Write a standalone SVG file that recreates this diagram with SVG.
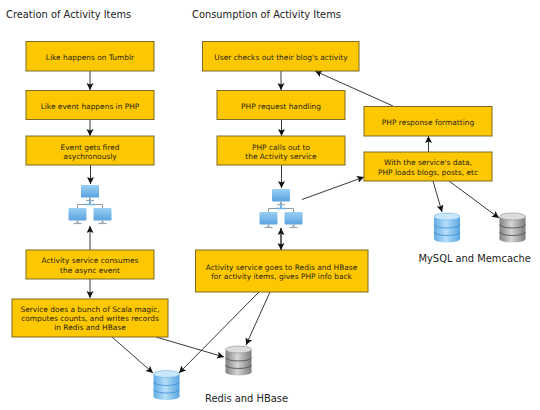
<svg xmlns="http://www.w3.org/2000/svg" width="540" height="410" viewBox="0 0 540 410">
<style>
.b{fill:#fdc800;stroke:#7d6a24;stroke-width:1}
.t{font-family:"DejaVu Sans",sans-serif;font-size:7.45px;fill:#2b2410;text-anchor:middle}
.h{font-family:"DejaVu Sans",sans-serif;font-size:9.9px;fill:#222}
.c{fill:none;stroke:#222;stroke-width:.9}
.ln{fill:none;stroke:#8f9aa3;stroke-width:1}
</style>
<defs>
<marker id="a" markerUnits="userSpaceOnUse" markerWidth="9" markerHeight="9" refX="7" refY="3.5" orient="auto"><path d="M0 0L7 3.5L0 7L1.5 3.5Z" fill="#111"/></marker>
<linearGradient id="sc" x1="0" y1="0" x2="0" y2="1"><stop offset="0" stop-color="#9ad0f5"/><stop offset="1" stop-color="#5aa2e0"/></linearGradient>
<linearGradient id="bl" x1="0" y1="0" x2="1" y2="0"><stop offset="0" stop-color="#62ace6"/><stop offset=".45" stop-color="#b4def9"/><stop offset="1" stop-color="#5aa6e2"/></linearGradient>
<linearGradient id="gr" x1="0" y1="0" x2="1" y2="0"><stop offset="0" stop-color="#808080"/><stop offset=".45" stop-color="#d6d6d6"/><stop offset="1" stop-color="#7c7c7c"/></linearGradient>
<g id="pc"><rect x="0" y="0" width="18" height="12.500" rx="1" fill="url(#sc)"/><path d="M8 12.500h2v2.500h-2z" fill="#9aa"/><path d="M5 15.500h8" stroke="#9aa4ac" stroke-width="1.200"/></g>
<g id="net"><use href="#pc" x="6" y="0"/><use href="#pc" x="-6.500" y="23"/><use href="#pc" x="18.500" y="23"/><path d="M2.500 23v-3.500h25V23" class="ln"/><path d="M15 15v5" stroke="#6fb2e8" stroke-width="2"/><path d="M10 19.500h10" stroke="#6fb2e8" stroke-width="1.500"/></g>
<g id="cb"><ellipse cx="13" cy="26" rx="13" ry="3.500" fill="url(#bl)"/><rect y="3.500" width="26" height="22.500" fill="url(#bl)"/><ellipse cx="13" cy="3.500" rx="13" ry="3.500" fill="#c9e7fb" stroke="#6fb0e4" stroke-width=".6"/><path d="M0 11.500a13 3.500 0 0 0 26 0M0 19a13 3.500 0 0 0 26 0" fill="none" stroke="#3f8ed4" stroke-width=".8"/></g>
<g id="cg"><ellipse cx="13" cy="26" rx="13" ry="3.500" fill="url(#gr)"/><rect y="3.500" width="26" height="22.500" fill="url(#gr)"/><ellipse cx="13" cy="3.500" rx="13" ry="3.500" fill="#dcdcdc" stroke="#8c8c8c" stroke-width=".6"/><path d="M0 11.500a13 3.500 0 0 0 26 0M0 19a13 3.500 0 0 0 26 0" fill="none" stroke="#555" stroke-width=".9"/></g>
</defs>
<rect width="540" height="410" fill="#fff"/>
<g id="titles">
<text class="h" x="6" y="17.500">Creation of Activity Items</text>
<text class="h" x="192" y="17.500">Consumption of Activity Items</text>
<text class="h" x="418.500" y="262">MySQL and Memcache</text>
<text class="h" x="205" y="402">Redis and HBase</text>
</g>
<g id="connectors">
<path class="c" marker-end="url(#a)" d="M90 71V90"/>
<path class="c" marker-end="url(#a)" d="M90 119.500V136"/>
<path class="c" marker-end="url(#a)" d="M90.500 165V184"/>
<path class="c" marker-end="url(#a)" d="M90 250V226"/>
<path class="c" marker-end="url(#a)" d="M90 279V298"/>
<path class="c" marker-end="url(#a)" d="M112 337L153 373"/>
<path class="c" marker-end="url(#a)" d="M156 337L224 357"/>
<path class="c" marker-end="url(#a)" d="M281 71V90"/>
<path class="c" marker-end="url(#a)" d="M281.500 119.500V136"/>
<path class="c" marker-end="url(#a)" d="M281.500 165V188"/>
<path class="c" marker-end="url(#a)" d="M281 250V228"/>
<path class="c" marker-end="url(#a)" d="M281 228V250"/>
<path class="c" marker-end="url(#a)" d="M259 292L179 373"/>
<path class="c" marker-end="url(#a)" d="M270 292L246 345"/>
<path class="c" marker-end="url(#a)" d="M302 199.500L364 177"/>
<path class="c" marker-end="url(#a)" d="M428.500 152V136"/>
<path class="c" marker-end="url(#a)" d="M393 106L315 71"/>
<path class="c" marker-end="url(#a)" d="M433 181L442 212"/>
<path class="c" marker-end="url(#a)" d="M449 181L499 218"/>
</g>
<g id="n1"><rect class="b" x="26" y="41.500" width="128" height="29.500"/><text class="t" x="90" y="60">Like happens on Tumblr</text></g>
<g id="n2"><rect class="b" x="26" y="90.500" width="128" height="29"/><text class="t" x="90" y="109">Like event happens in PHP</text></g>
<g id="n3"><rect class="b" x="26" y="136" width="128" height="29"/><text class="t" x="90" y="149.500">Event gets fired</text><text class="t" x="90" y="159">asychronously</text></g>
<g id="n4"><use href="#net" x="75" y="185"/></g>
<g id="n5"><rect class="b" x="26" y="250" width="128" height="29"/><text class="t" x="90" y="263">Activity service consumes</text><text class="t" x="90" y="273">the async event</text></g>
<g id="n6"><rect class="b" x="12" y="299" width="156" height="38"/><text class="t" x="90" y="312">Service does a bunch of Scala magic,</text><text class="t" x="90" y="321">computes counts, and writes records</text><text class="t" x="90" y="330">in Redis and HBase</text></g>
<g id="n7"><rect class="b" x="202.500" y="41.500" width="156.500" height="29.500"/><text class="t" x="281" y="60">User checks out their blog's activity</text></g>
<g id="n8"><rect class="b" x="217" y="90.500" width="128" height="29"/><text class="t" x="281" y="109">PHP request handling</text></g>
<g id="n9"><rect class="b" x="217" y="136" width="128" height="29"/><text class="t" x="281" y="149.500">PHP calls out to</text><text class="t" x="281" y="159">the Activity service</text></g>
<g id="n10"><use href="#net" x="266" y="189"/></g>
<g id="n11"><rect class="b" x="195.500" y="250" width="172.500" height="42"/><text class="t" x="281.500" y="270">Activity service goes to Redis and HBase</text><text class="t" x="281.500" y="279">for activity items, gives PHP info back</text></g>
<g id="n12"><rect class="b" x="364" y="106.500" width="128" height="29.500"/><text class="t" x="428" y="125">PHP response formatting</text></g>
<g id="n13"><rect class="b" x="364" y="152" width="128" height="29"/><text class="t" x="428" y="165">With the service's data,</text><text class="t" x="428" y="175">PHP loads blogs, posts, etc</text></g>
<g id="db1"><use href="#cb" x="434" y="213"/></g>
<g id="db2"><use href="#cg" x="499.500" y="213"/></g>
<g id="db3"><use href="#cb" x="153.500" y="370.500"/></g>
<g id="db4"><use href="#cg" x="225.500" y="346"/></g>
</svg>
